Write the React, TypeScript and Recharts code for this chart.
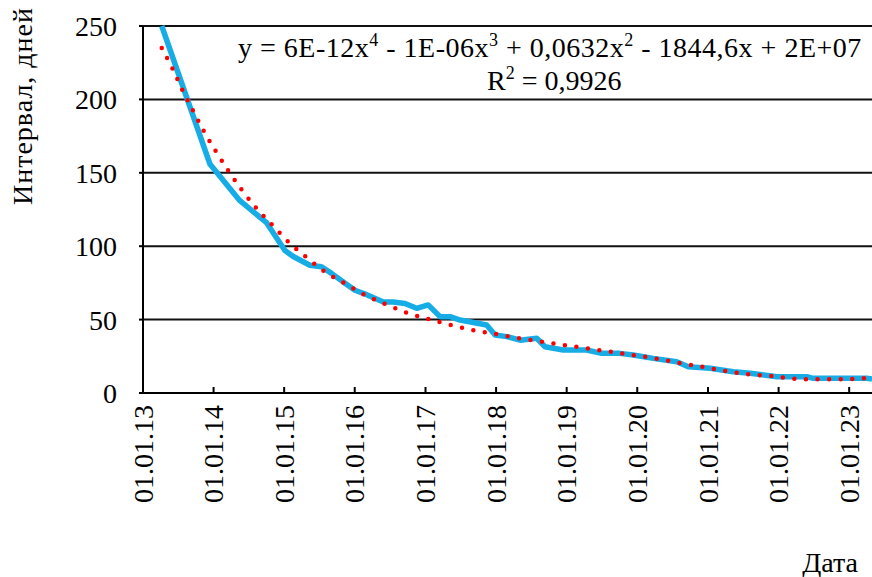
import React from 'react';
import { LineChart, Line, XAxis, YAxis, CartesianGrid } from 'recharts';

// observed interval (days) by date
const obsDates = [
  '2013-04-08', '2013-12-13', '2014-05-17', '2014-10-02', '2015-01-05', '2015-02-17',
  '2015-05-14', '2015-07-13', '2015-09-03', '2015-11-10', '2016-01-02', '2016-03-03',
  '2016-05-28', '2016-07-18', '2016-09-17', '2016-11-16', '2017-01-15', '2017-03-17',
  '2017-05-08', '2017-06-29', '2017-11-13', '2017-12-27', '2018-02-25', '2018-05-05',
  '2018-07-30', '2018-09-11', '2018-12-14', '2019-04-14', '2019-07-01', '2019-10-03',
  '2019-12-11', '2020-03-24', '2020-07-23', '2020-09-21', '2021-01-12', '2021-05-12',
  '2021-08-07', '2021-12-23', '2022-05-27', '2022-06-28', '2023-04-02', '2023-04-29',
];
const obsValues = [
  250, 156, 131, 116, 97, 93,
  87, 86, 81.5, 75, 70, 67,
  62, 62, 61, 57.7, 60, 52,
  52, 49.7, 46.3, 39.5, 38.4, 36,
  37.3, 31.5, 29.3, 29.3, 27, 27,
  25.9, 23.6, 21.3, 17.9, 16.8, 14.5,
  13.4, 11.1, 11.1, 10, 10, 9.5,
];

// polynomial trend line
const trendDates = [
  '2013-04-08', '2013-06-04', '2013-07-25', '2013-09-18', '2013-11-13', '2014-01-16',
  '2014-03-22', '2014-05-31', '2014-08-16', '2014-11-05', '2015-01-27', '2015-04-27',
  '2015-07-30', '2015-11-10', '2016-02-22', '2016-06-10', '2016-09-26', '2017-01-20',
  '2017-05-12', '2017-09-02', '2018-01-01', '2018-04-30', '2018-08-24', '2018-12-18',
  '2019-04-14', '2019-08-13', '2019-12-08', '2020-04-02', '2020-07-31', '2020-11-30',
  '2021-03-21', '2021-07-20', '2021-11-18', '2022-03-15', '2022-07-17', '2022-11-14',
  '2023-03-15', '2023-05-01',
];
const trendValues = [
  235, 220.5, 206, 192, 178, 164,
  150.7, 137.6, 125, 113.8, 102.4, 92.4,
  82.6, 74.7, 66.8, 60.4, 54.7, 50.3,
  46.3, 42.9, 40.2, 37.3, 35, 32.7,
  30.5, 28.1, 25.9, 23.6, 20.6, 17.9,
  15.2, 12.9, 11.6, 9.8, 9.3, 9.3,
  10, 10.5,
];

const tickDates = [
  '2013-01-01', '2014-01-01', '2015-01-01', '2016-01-01', '2017-01-01', '2018-01-01',
  '2019-01-01', '2020-01-01', '2021-01-01', '2022-01-01', '2023-01-01',
];
const yTicks = [0, 50, 100, 150, 200, 250];
const xDomainEnd = '2023-04-29';

const FONT = '"Times New Roman", Tinos, "Liberation Serif", "DejaVu Serif", serif';
const txt = { fontFamily: FONT };

const obsData = obsDates.map((d, i) => ({ t: Date.parse(d), v: obsValues[i] }));
const trendData = trendDates.map((d, i) => ({ t: Date.parse(d), v: trendValues[i] }));
const xTicks = tickDates.map((d) => Date.parse(d));

const DateTick = (props: any) => {
  const { x, y, payload } = props;
  const d = new Date(payload.value);
  const dd = String(d.getUTCDate()).padStart(2, '0');
  const mm = String(d.getUTCMonth() + 1).padStart(2, '0');
  const yy = String(d.getUTCFullYear()).slice(2);
  const ty = y + 16;
  return (
    <text
      x={x}
      y={ty}
      transform={`rotate(-90, ${x}, ${ty})`}
      textAnchor="end"
      dominantBaseline="central"
      style={txt}
      fontSize={28}
      fill="#000"
    >
      {`${dd}.${mm}.${yy}`}
    </text>
  );
};

export default function App() {
  return (
    <div style={{ position: 'absolute', left: 0, top: 0, width: 872, height: 577, background: '#fff', overflow: 'hidden', fontFamily: FONT }}>
      <LineChart width={872} height={577} margin={{ top: 26, right: 0, bottom: 0, left: 0 }} style={txt}>
        <CartesianGrid vertical={false} stroke="#111" strokeWidth={2} />
        <XAxis
          dataKey="t"
          type="number"
          domain={[xTicks[0], Date.parse(xDomainEnd)]}
          ticks={xTicks}
          allowDataOverflow
          height={184}
          tickSize={-6}
          tickMargin={2}
          tickLine={{ stroke: '#000', strokeWidth: 2 }}
          axisLine={{ stroke: '#000', strokeWidth: 2 }}
          tick={<DateTick />}
          interval={0}
        />
        <YAxis
          type="number"
          domain={[0, 250]}
          ticks={yTicks}
          width={143}
          tickSize={4}
          tickMargin={22}
          tickLine={{ stroke: '#000', strokeWidth: 2 }}
          axisLine={{ stroke: '#000', strokeWidth: 2 }}
          tick={{ style: txt, fontSize: 28, fill: '#000' }}
          interval={0}
        />
        <Line
          data={obsData}
          dataKey="v"
          type="linear"
          stroke="#16ADE6"
          strokeWidth={5.5}
          strokeLinejoin="round"
          dot={false}
          isAnimationActive={false}
        />
        <Line
          data={trendData}
          dataKey="v"
          type="monotone"
          stroke="#FF0000"
          strokeWidth={4.5}
          strokeDasharray="0 11.6"
          strokeLinecap="round"
          dot={false}
          isAnimationActive={false}
        />
      </LineChart>
      <svg width={872} height={577} style={{ position: 'absolute', left: 0, top: 0, pointerEvents: 'none', fontFamily: FONT }}>
        <text
          x={22}
          y={106}
          transform="rotate(-90, 22, 106)"
          textAnchor="middle"
          dominantBaseline="central"
          style={txt}
          fontSize={28}
          letterSpacing={1}
          fill="#000"
        >
          Интервал, дней
        </text>
        <text x={238} y={57} style={txt} fontSize={28} letterSpacing={0.5} fill="#000">
          y = 6E-12x<tspan fontSize={18} dy={-11}>4</tspan>
          <tspan dy={11}> - 1E-06x</tspan>
          <tspan fontSize={18} dy={-11}>3</tspan>
          <tspan dy={11}> + 0,0632x</tspan>
          <tspan fontSize={18} dy={-11}>2</tspan>
          <tspan dy={11}> - 1844,6x + 2E+07</tspan>
        </text>
        <text x={487} y={90} style={txt} fontSize={28} fill="#000">
          R<tspan fontSize={18} dy={-11}>2</tspan>
          <tspan dy={11}> = 0,9926</tspan>
        </text>
        <text x={858} y={572} textAnchor="end" style={txt} fontSize={28} fill="#000">
          Дата
        </text>
      </svg>
    </div>
  );
}
